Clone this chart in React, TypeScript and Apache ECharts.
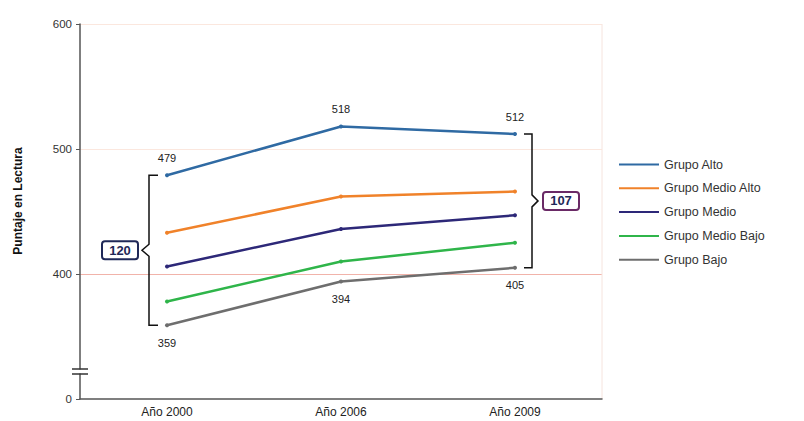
import React, { useEffect, useRef } from "react";
import * as echarts from "echarts";

const categories = ["Año 2000", "Año 2006", "Año 2009"];
const seriesNames = ["Grupo Alto", "Grupo Medio Alto", "Grupo Medio", "Grupo Medio Bajo", "Grupo Bajo"];
const grupoAlto = [479, 518, 512];
const grupoMedioAlto = [433, 462, 466];
const grupoMedio = [406, 436, 447];
const grupoMedioBajo = [378, 410, 425];
const grupoBajo = [359, 394, 405];
const yTickLabels: Record<number, string> = { 300: "0", 400: "400", 500: "500", 600: "600" };
const colors = ["#2f6aa3", "#f0822a", "#2d2878", "#2fb54a", "#6e6e6e"];

export default function App() {
  const ref = useRef<HTMLDivElement>(null);
  useEffect(() => {
    if (!ref.current) return;
    const chart = echarts.init(ref.current, undefined, { renderer: "svg" });
    const data = [grupoAlto, grupoMedioAlto, grupoMedio, grupoMedioBajo, grupoBajo];
    const font = "'Liberation Sans', Arial, sans-serif";
    chart.setOption({
      animation: false,
      textStyle: { fontFamily: font },
      grid: { left: 80, right: 202, top: 24, bottom: 22, containLabel: false },
      legend: {
        orient: "vertical",
        left: 614,
        top: 153,
        itemWidth: 40,
        itemHeight: 10,
        itemGap: 10.8,
        icon: "path://M0,4 L40,4 L40,6 L0,6 Z",
        textStyle: { fontSize: 12.5, color: "#333", fontFamily: font },
        data: seriesNames,
      },
      xAxis: {
        type: "category",
        data: categories,
        boundaryGap: true,
        axisLine: { lineStyle: { color: "#555", width: 1.5 } },
        axisTick: { alignWithLabel: true, inside: true, length: 5, lineStyle: { color: "#555" } },
        axisLabel: { fontSize: 12, color: "#222", margin: 7, fontFamily: font },
        splitLine: { show: false },
      },
      yAxis: {
        type: "value",
        min: 300,
        max: 600,
        interval: 100,
        axisLine: { show: true, lineStyle: { color: "#555", width: 1.5 } },
        axisTick: { show: true, length: 4, lineStyle: { color: "#555" } },
        axisLabel: {
          fontSize: 11.5,
          color: "#333",
          margin: 8,
          fontFamily: font,
          formatter: (v: number) => yTickLabels[v] ?? "",
        },
        splitLine: {
          show: true,
          lineStyle: { color: ["rgba(0,0,0,0)", "#f1b3aa", "#fbe7de", "#fbe7de"], width: 1 },
        },
      },
      series: data.map((d, i) => ({
        name: seriesNames[i],
        type: "line",
        data: d,
        color: colors[i],
        symbol: "circle",
        symbolSize: 4,
        lineStyle: { width: 2.5, color: colors[i] },
        itemStyle: { color: colors[i] },
        label: {
          show: i === 0 || i === 4,
          position: i === 0 ? "top" : "bottom",
          distance: 10,
          fontSize: 11,
          color: "#222",
          fontFamily: font,
        },
      })),
    });

    const px = (ci: number, v: number) => chart.convertToPixel({ seriesIndex: 0 }, [ci, v]) as number[];
    const [x0, top0] = px(0, grupoAlto[0]);
    const [, bot0] = px(0, grupoBajo[0]);
    const [x2, top2] = px(2, grupoAlto[2]);
    const [, bot2] = px(2, grupoBajo[2]);
    const mid0 = (top0 + bot0) / 2;
    const mid2 = (top2 + bot2) / 2;
    const bx0 = x0 - 18;
    const bx2 = x2 + 17;
    const [, breakY] = px(0, 322);
    const axisX = 80;
    const braceStyle = { stroke: "#111", lineWidth: 1.5, fill: null };
    chart.setOption({
      graphic: [
        {
          type: "text",
          x: 18,
          y: 201,
          rotation: Math.PI / 2,
          style: {
            text: "Puntaje en Lectura",
            fontSize: 12,
            fontWeight: "bold",
            fill: "#111",
            fontFamily: font,
            align: "center",
            verticalAlign: "middle",
          },
        },
        {
          type: "line",
          shape: { x1: 602, y1: 24, x2: 602, y2: 399 },
          style: { stroke: "#f6e4de", lineWidth: 1 },
        },
        {
          type: "polyline",
          shape: {
            points: [
              [x0 - 9, top0], [bx0, top0], [bx0, mid0 - 6], [bx0 - 7, mid0], [bx0, mid0 + 6], [bx0, bot0], [x0 - 9, bot0],
            ],
          },
          style: braceStyle,
        },
        {
          type: "rect",
          shape: { x: 102, y: mid0 - 9, width: 36, height: 18, r: 3 },
          style: { stroke: "#1f2858", lineWidth: 2, fill: "#fff" },
        },
        {
          type: "text",
          x: 120,
          y: mid0,
          style: {
            text: String(grupoAlto[0] - grupoBajo[0]),
            fontSize: 13,
            fontWeight: "bold",
            fill: "#1f2858",
            fontFamily: font,
            align: "center",
            verticalAlign: "middle",
          },
        },
        {
          type: "polyline",
          shape: {
            points: [
              [x2 + 9, top2], [bx2, top2], [bx2, mid2 - 6], [bx2 + 6, mid2], [bx2, mid2 + 6], [bx2, bot2], [x2 + 9, bot2],
            ],
          },
          style: braceStyle,
        },
        {
          type: "rect",
          shape: { x: 543, y: mid2 - 9, width: 36, height: 18, r: 3 },
          style: { stroke: "#6a2a66", lineWidth: 2, fill: "#fff" },
        },
        {
          type: "text",
          x: 561,
          y: mid2,
          style: {
            text: String(grupoAlto[2] - grupoBajo[2]),
            fontSize: 13,
            fontWeight: "bold",
            fill: "#1f2858",
            fontFamily: font,
            align: "center",
            verticalAlign: "middle",
          },
        },
        {
          type: "rect",
          z: 200,
          shape: { x: axisX - 3, y: breakY - 2, width: 6, height: 4 },
          style: { fill: "#fff" },
        },
        {
          type: "line",
          z: 201,
          shape: { x1: axisX - 8, y1: breakY - 2.5, x2: axisX + 8, y2: breakY - 2.5 },
          style: { stroke: "#333", lineWidth: 1.5 },
        },
        {
          type: "line",
          z: 201,
          shape: { x1: axisX - 8, y1: breakY + 2.5, x2: axisX + 8, y2: breakY + 2.5 },
          style: { stroke: "#333", lineWidth: 1.5 },
        },
      ],
    });
    return () => chart.dispose();
  }, []);
  return <div ref={ref} style={{ width: 804, height: 421, position: "absolute", left: 0, top: 0 }} />;
}
